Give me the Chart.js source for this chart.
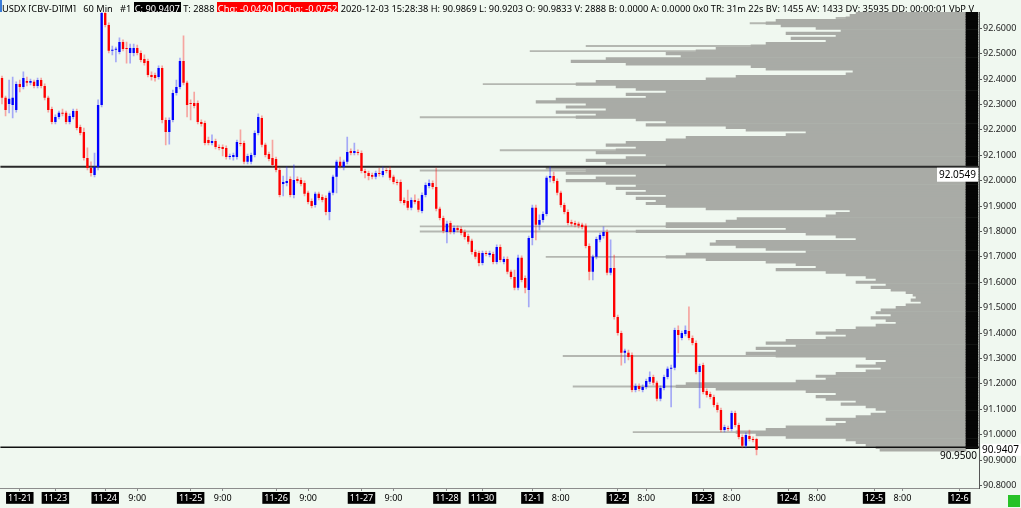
<!DOCTYPE html>
<html><head><meta charset="utf-8">
<script src="https://cdn.jsdelivr.net/npm/chart.js@4.4.1/dist/chart.umd.min.js"></script>
<style>
html,body{margin:0;padding:0;background:#f0f8f0;width:1021px;height:508px;overflow:hidden}
#wrap{position:relative;width:1021px;height:508px}
canvas{position:absolute;left:0;top:0}
#hdr{position:absolute;left:0;top:0;height:12px;width:978px;overflow:hidden;white-space:nowrap;font-family:"Noto Sans",sans-serif;line-height:12px;color:#000;border-left:2px solid #3b7dd8;z-index:2}
#hdr .k{background:#000;color:#fff;padding:0 1px}
#hdr .r{background:#f00;color:#fff;padding:0 1px}
#gbox{position:absolute;left:1008px;top:495px;width:12px;height:12px;background:#27c227}
</style></head><body>
<div id="wrap"><canvas id="c" width="1021" height="508"></canvas>
<div id="hdr"><span id="hdrText"></span></div><div id="gbox"></div></div>
<script>
// ---- candle data (60 min bars) ----
const opens = [92.404,92.326,92.302,92.298,92.278,92.381,92.369,92.392,92.385,92.389,92.373,92.396,92.373,92.326,92.282,92.231,92.251,92.267,92.267,92.231,92.251,92.274,92.211,92.192,92.089,92.050,92.022,92.054,92.298,92.660,92.613,92.511,92.515,92.507,92.546,92.522,92.503,92.503,92.522,92.503,92.479,92.471,92.416,92.416,92.408,92.444,92.239,92.192,92.239,92.345,92.369,92.471,92.385,92.306,92.306,92.306,92.231,92.227,92.160,92.148,92.156,92.133,92.133,92.129,92.093,92.093,92.093,92.148,92.148,92.074,92.074,92.101,92.188,92.247,92.141,92.105,92.089,92.085,92.042,91.987,91.991,92.007,91.944,92.007,92.003,91.991,91.952,91.920,91.904,91.948,91.936,91.932,91.877,91.952,92.015,92.074,92.054,92.074,92.117,92.109,92.113,92.109,92.038,92.030,92.022,92.015,92.030,92.022,92.042,92.042,92.015,91.995,91.995,91.924,91.920,91.893,91.924,91.920,91.881,91.944,91.979,91.991,91.975,91.889,91.853,91.798,91.833,91.798,91.814,91.810,91.798,91.782,91.763,91.719,91.715,91.676,91.715,91.707,91.711,91.680,91.739,91.680,91.692,91.641,91.621,91.578,91.696,91.617,91.570,91.774,91.893,91.826,91.845,91.869,92.011,92.018,91.999,91.952,91.904,91.877,91.837,91.833,91.830,91.826,91.822,91.743,91.641,91.700,91.767,91.782,91.798,91.637,91.656,91.463,91.400,91.322,91.322,91.314,91.176,91.192,91.176,91.188,91.208,91.227,91.204,91.141,91.184,91.227,91.259,91.263,91.412,91.381,91.396,91.408,91.381,91.361,91.247,91.274,91.172,91.160,91.148,91.117,91.097,91.018,91.026,91.022,91.085,91.038,90.991,90.956,90.995,90.983,90.9833];
const highs = [92.412,92.333,92.396,92.408,92.389,92.396,92.428,92.408,92.400,92.396,92.404,92.404,92.381,92.333,92.290,92.259,92.274,92.282,92.274,92.263,92.282,92.282,92.219,92.207,92.129,92.074,92.109,92.318,92.664,92.664,92.621,92.530,92.526,92.562,92.554,92.546,92.538,92.538,92.534,92.511,92.495,92.479,92.428,92.424,92.452,92.452,92.247,92.247,92.357,92.396,92.483,92.570,92.392,92.318,92.349,92.314,92.239,92.235,92.172,92.180,92.164,92.141,92.141,92.137,92.105,92.109,92.160,92.200,92.156,92.105,92.109,92.196,92.263,92.255,92.148,92.113,92.160,92.093,92.050,92.018,92.054,92.015,92.062,92.015,92.011,91.999,91.959,91.928,91.955,91.955,91.944,91.940,91.959,92.022,92.081,92.093,92.081,92.172,92.125,92.148,92.121,92.117,92.046,92.038,92.030,92.038,92.050,92.054,92.050,92.054,92.022,92.003,92.003,91.932,91.963,91.932,91.944,91.928,91.952,91.991,92.003,91.999,92.050,91.896,91.861,91.841,91.841,91.822,91.822,91.818,91.806,91.790,91.770,91.727,91.723,91.723,91.723,91.723,91.719,91.747,91.747,91.700,91.700,91.648,91.648,91.707,91.704,91.625,91.782,91.904,91.904,91.865,91.877,92.018,92.054,92.034,92.007,91.959,91.912,91.885,91.845,91.841,91.837,91.833,91.830,91.751,91.707,91.778,91.794,91.818,91.806,91.767,91.707,91.471,91.408,91.337,91.333,91.322,91.200,91.200,91.196,91.219,91.247,91.235,91.211,91.192,91.235,91.267,91.274,91.420,91.428,91.408,91.428,91.503,91.389,91.369,91.278,91.282,91.180,91.168,91.156,91.125,91.105,91.038,91.034,91.093,91.093,91.046,90.999,91.007,91.018,90.991,90.9869];
const lows = [92.302,92.255,92.267,92.247,92.270,92.349,92.361,92.373,92.377,92.365,92.365,92.365,92.318,92.270,92.223,92.223,92.243,92.255,92.223,92.223,92.243,92.200,92.180,92.081,92.042,92.018,92.015,92.042,92.290,92.605,92.503,92.495,92.467,92.499,92.511,92.463,92.463,92.491,92.495,92.467,92.455,92.408,92.396,92.392,92.400,92.227,92.141,92.144,92.231,92.337,92.361,92.377,92.251,92.239,92.286,92.223,92.215,92.141,92.141,92.141,92.125,92.121,92.097,92.085,92.085,92.081,92.085,92.137,92.066,92.066,92.066,92.093,92.180,92.133,92.093,92.078,92.054,92.034,91.936,91.940,91.979,91.936,91.932,91.991,91.979,91.940,91.908,91.893,91.896,91.924,91.916,91.865,91.845,91.944,91.952,92.050,92.042,92.066,92.101,92.101,92.101,92.030,92.011,92.003,92.007,92.007,92.018,92.015,92.030,92.003,91.987,91.983,91.912,91.904,91.885,91.885,91.908,91.877,91.873,91.936,91.971,91.967,91.881,91.845,91.794,91.755,91.790,91.790,91.798,91.786,91.770,91.751,91.711,91.692,91.664,91.668,91.704,91.700,91.672,91.672,91.680,91.672,91.633,91.613,91.570,91.570,91.601,91.558,91.503,91.747,91.767,91.806,91.837,91.861,91.995,91.991,91.944,91.896,91.869,91.826,91.822,91.818,91.814,91.810,91.735,91.609,91.609,91.692,91.759,91.774,91.629,91.629,91.455,91.392,91.274,91.282,91.294,91.168,91.168,91.172,91.168,91.180,91.200,91.196,91.133,91.133,91.176,91.219,91.109,91.255,91.322,91.373,91.389,91.373,91.353,91.239,91.105,91.160,91.148,91.141,91.109,91.089,91.011,91.011,91.015,91.015,91.030,90.983,90.948,90.948,90.975,90.971,90.9203];
const closes = [92.326,92.278,92.322,92.326,92.381,92.369,92.404,92.385,92.392,92.373,92.396,92.373,92.326,92.278,92.231,92.251,92.267,92.263,92.231,92.255,92.274,92.207,92.188,92.089,92.050,92.030,92.054,92.298,92.660,92.613,92.511,92.515,92.518,92.546,92.518,92.518,92.522,92.522,92.503,92.475,92.463,92.416,92.408,92.404,92.444,92.239,92.192,92.239,92.345,92.369,92.471,92.385,92.298,92.302,92.294,92.231,92.223,92.148,92.148,92.156,92.133,92.129,92.125,92.093,92.097,92.101,92.152,92.144,92.074,92.097,92.101,92.188,92.251,92.141,92.101,92.085,92.062,92.042,91.944,91.995,91.999,91.944,92.003,91.999,91.987,91.948,91.916,91.900,91.948,91.932,91.924,91.877,91.952,92.015,92.074,92.058,92.074,92.113,92.109,92.117,92.109,92.038,92.030,92.018,92.015,92.030,92.026,92.038,92.038,92.011,91.995,91.991,91.920,91.912,91.893,91.924,91.916,91.885,91.944,91.983,91.991,91.975,91.889,91.853,91.802,91.830,91.798,91.814,91.806,91.794,91.778,91.759,91.719,91.700,91.676,91.715,91.711,91.715,91.680,91.739,91.688,91.692,91.641,91.621,91.578,91.696,91.609,91.578,91.774,91.893,91.826,91.845,91.869,92.011,92.018,91.999,91.952,91.904,91.877,91.833,91.830,91.826,91.822,91.818,91.743,91.641,91.700,91.770,91.786,91.798,91.637,91.656,91.463,91.400,91.322,91.330,91.306,91.176,91.192,91.180,91.188,91.211,91.227,91.204,91.141,91.184,91.227,91.259,91.263,91.412,91.392,91.400,91.412,91.381,91.361,91.247,91.270,91.168,91.156,91.148,91.117,91.097,91.018,91.030,91.022,91.085,91.038,90.991,90.956,90.999,90.983,90.979,90.9407];

// ---- x axis (bar slots incl. future) ----
const slotCount = 275;
const dateTickIdx  = [5,15,29,53,77,101,125,135,149,173,197,221,245,269];
const dateTickText = ['11-21','11-23','11-24','11-25','11-26','11-27','11-28','11-30','12-1','12-2','12-3','12-4','12-5','12-6'];
const timeTickIdx  = [38,62,86,110,157,181,205,229,253];
const timeTickText = ['9:00','9:00','9:00','9:00','8:00','8:00','8:00','8:00','8:00'];

// ---- y axis ----
const yMin = 90.79, yMax = 92.664;
const yTickValues = [90.8,90.9,91.0,91.1,91.2,91.3,91.4,91.5,91.6,91.7,91.8,91.9,92.0,92.1,92.2,92.3,92.4,92.5,92.6];

// ---- reference lines ----
const refLineHigh = 92.0549;
const refLineLow = 90.95;

// ---- volume-by-price profile (0.01 buckets, from 92.66 downward) ----
const profileTop = 92.66, profileStep = 0.01;
const profileVolume = [
 110,116,120,190,200,185,150,125,180,130,
 175,140,200,215,250,270,300,285,360,395,
 340,215,200,113,120,230,260,370,390,350,
 330,300,340,320,410,430,380,400,360,410,
 370,390,330,300,320,240,220,160,180,280,
 300,340,360,330,350,370,320,340,380,360,
 300,420,380,400,330,370,400,360,330,350,
 320,340,300,330,310,320,300,260,116,130,
 140,229,240,300,300,180,330,160,130,110,
 250,256,230,200,160,280,300,260,200,170,
 150,190,140,120,100,90,110,80,95,75,
 60,53,50,55,45,60,70,85,90,75,
 95,80,70,90,110,130,150,120,140,180,
 200,170,210,190,220,190,100,80,90,110,
 85,100,130,150,140,170,280,290,250,160,
 130,150,140,110,125,100,90,80,95,110,
 140,120,130,180,200,230,210,180,120,110,
 100,90,86];
// thin long single-price lines sticking out of the profile
const spikePrices = [92.64, 92.62, 92.53, 92.51, 92.38, 92.25, 92.12, 92.04, 91.82, 91.80, 91.70, 91.31, 91.19, 91.01];
const spikeVolume = [130, 216, 380, 436, 483, 546, 466, 546, 546, 546, 420, 403, 393, 333];
const stripLowest = 90.95;

// ---- header ----
const last = closes.length - 1;
const chg = -0.0420, dchg = -0.0752;
document.getElementById('hdrText').innerHTML =
 'USDX [CBV-D][M]&nbsp;&nbsp; 60 Min &nbsp;&nbsp;#1 <span class="k">C: ' + closes[last].toFixed(4) + '</span> T: 2888 ' +
 '<span class="r">Chg: ' + chg.toFixed(4) + '</span> <span class="r">DChg: ' + dchg.toFixed(4) + '</span> ' +
 '2020-12-03 15:28:38 H: ' + highs[last].toFixed(4) + ' L: ' + lows[last].toFixed(4) + ' O: ' + opens[last].toFixed(4) +
 ' V: 2888 B: 0.0000 A: 0.0000 0x0 TR: 31m 22s BV: 1455 AV: 1433 DV: 35935 DD: 00:00:01 VbP V';
(function fitHeader(){
  const el = document.getElementById('hdrText');
  el.style.fontSize = '10px';
  const w = el.getBoundingClientRect().width;
  el.style.fontSize = (10 * 973 / w) + 'px';
})();

// ---- build datasets ----
const labels = Array.from({length: slotCount}, (_, i) => String(i));
const tickText = Array(slotCount).fill('');
const isDate = Array(slotCount).fill(false);
dateTickIdx.forEach((ix, k) => { tickText[ix] = dateTickText[k]; isDate[ix] = true; });
timeTickIdx.forEach((ix, k) => { tickText[ix] = timeTickText[k]; });

const up = opens.map((o, i) => closes[i] >= o);
const wickData = highs.map((h, i) => [lows[i], h]);
const bodyData = opens.map((o, i) => [o, closes[i]]);
const profLevels = profileVolume.map((_, i) => +(profileTop - i * profileStep).toFixed(2));
const profData = profileVolume.map((v, i) => ({x: v, y: profLevels[i]}));
const spikeData = spikePrices.map((p, i) => ({x: spikeVolume[i], y: p}));
const stripData = profLevels.filter(p => p >= stripLowest).map(p => ({x: [-12, 0], y: p}));

const FONT = '"Noto Sans", sans-serif';
Chart.defaults.font.family = FONT;

const labelPlugin = {
  id: 'priceLabels',
  afterDraw(chart) {
    const {ctx, chartArea, scales: {y}} = chart;
    ctx.save();
    ctx.font = '10px ' + FONT;
    ctx.textBaseline = 'middle';
    let py = y.getPixelForValue(refLineHigh);
    let txt = refLineHigh.toFixed(4);
    let tw = ctx.measureText(txt).width;
    ctx.fillStyle = '#ffffff';
    ctx.fillRect(chartArea.right - tw - 5, py + 1, tw + 4, 14);
    ctx.fillStyle = '#000';
    ctx.textAlign = 'right';
    ctx.fillText(txt, chartArea.right - 3, py + 8);
    py = y.getPixelForValue(refLineLow);
    txt = refLineLow.toFixed(4);
    ctx.fillText(txt, chartArea.right - 2, py + 9);
    py = y.getPixelForValue(closes[last]);
    txt = closes[last].toFixed(4);
    tw = ctx.measureText(txt).width;
    ctx.fillStyle = '#ffffff';
    ctx.fillRect(chartArea.right + 2, py - 6, tw + 3, 12);
    ctx.fillStyle = '#000';
    ctx.textAlign = 'left';
    ctx.fillText(txt, chartArea.right + 3, py);
    ctx.restore();
  }
};

new Chart(document.getElementById('c'), {
  data: {
    labels: labels,
    datasets: [
      { type: 'bar', label: 'body', data: bodyData, xAxisID: 'x', yAxisID: 'y',
        backgroundColor: up.map(u => u ? '#0000ff' : '#ff0000'),
        barPercentage: 0.66, categoryPercentage: 1, grouped: false, minBarLength: 1, order: 1 },
      { type: 'bar', label: 'wick', data: wickData, xAxisID: 'x', yAxisID: 'y',
        backgroundColor: up.map(u => u ? 'rgba(40,40,255,0.38)' : 'rgba(255,30,30,0.38)'),
        barThickness: 1, grouped: false, order: 2 },
      { type: 'line', label: 'refHigh', data: [{x: 0, y: refLineHigh}, {x: 1, y: refLineHigh}], xAxisID: 'xl', yAxisID: 'y',
        borderColor: '#2a2a2a', borderWidth: 2, pointRadius: 0, order: 3 },
      { type: 'line', label: 'refLow', data: [{x: 0, y: refLineLow}, {x: 1, y: refLineLow}], xAxisID: 'xl', yAxisID: 'y',
        borderColor: '#111111', borderWidth: 1.5, pointRadius: 0, order: 3 },
      { type: 'bar', label: 'strip', indexAxis: 'y', data: stripData, xAxisID: 'xv', yAxisID: 'yp',
        backgroundColor: '#050505', barPercentage: 1, categoryPercentage: 1, grouped: false, order: 9 },
      { type: 'bar', label: 'profile', indexAxis: 'y', data: profData, xAxisID: 'xv', yAxisID: 'yp',
        backgroundColor: '#a9aba6', barPercentage: 1, categoryPercentage: 1, grouped: false, order: 10 },
      { type: 'bar', label: 'spikes', indexAxis: 'y', data: spikeData, xAxisID: 'xv', yAxisID: 'yp',
        backgroundColor: '#b4b7b1', barThickness: 1.3, grouped: false, order: 11 }
    ]
  },
  options: {
    responsive: false, animation: false, devicePixelRatio: 1,
    layout: { padding: { top: 12, left: 0, right: 0, bottom: 0 } },
    plugins: { legend: { display: false }, tooltip: { enabled: false } },
    scales: {
      x: {
        type: 'category', position: 'bottom', offset: true,
        afterFit: s => { s.height = 20; },
        border: { display: true, color: '#8c8c8c', width: 1 },
        grid: { offset: false, drawOnChartArea: false, drawTicks: true, tickLength: 3,
                color: c => tickText[c.index] ? '#8c8c8c' : 'rgba(0,0,0,0)' },
        ticks: {
          autoSkip: false, maxRotation: 0, minRotation: 0, padding: 2,
          font: { size: 9 },
          callback: (v, i) => tickText[i],
          color: c => isDate[c.index] ? '#ffffff' : '#000000',
          showLabelBackdrop: c => isDate[c.index],
          backdropColor: '#000000',
          backdropPadding: { left: 2, right: 2, top: 1, bottom: 0 }
        }
      },
      y: {
        type: 'linear', position: 'right', min: yMin, max: yMax, offset: false,
        afterFit: s => { s.width = 42; },
        afterBuildTicks: s => { s.ticks = yTickValues.map(v => ({ value: v })); },
        border: { display: true, color: '#555555', width: 1 },
        grid: { drawOnChartArea: false, drawTicks: true, tickLength: 3, color: '#555555' },
        ticks: { padding: 1, font: { size: 9 }, color: '#222222', callback: v => Number(v).toFixed(4) }
      },
      yp: { type: 'linear', axis: 'y', display: false, offset: false, min: yMin, max: yMax },
      xv: { type: 'linear', axis: 'x', display: false, offset: false, reverse: true, min: -13, max: 966 },
      xl: { type: 'linear', axis: 'x', display: false, offset: false, min: 0, max: 1 }
    }
  },
  plugins: [labelPlugin]
});
</script>
</body></html>
